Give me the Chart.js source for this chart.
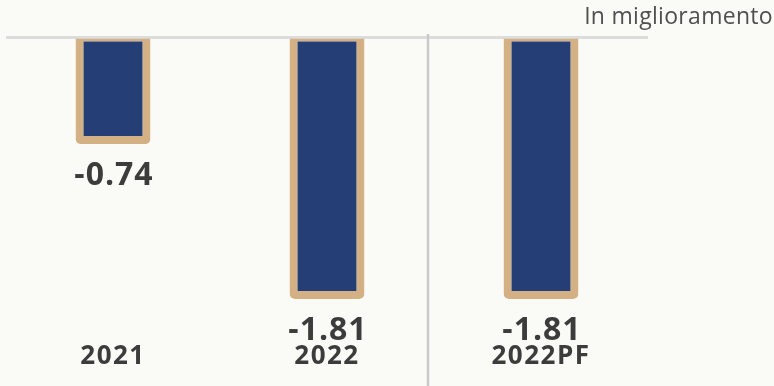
<!DOCTYPE html>
<html>
<head>
<meta charset="utf-8">
<script src="https://cdn.jsdelivr.net/npm/chart.js@4.4.1/dist/chart.umd.min.js"></script>
<style>
    html, body { margin: 0; padding: 0; background: #fafaf7; }
    #wrap { position: relative; width: 774px; height: 386px; }
    #trend {
        position: absolute; right: 1px; top: -1px;
        font: 400 23px "Open Sans", sans-serif;
        letter-spacing: 0.3px; color: #505050;
    }
</style>
</head>
<body>
<div id="wrap">
    <div id="trend">In miglioramento</div>
    <canvas id="chart" width="774" height="386"></canvas>
</div>
<script>
const categories = ['2021', '2022', '2022PF'];
const values = [-0.74, -1.81, -1.81];

const textColor = '#3c3c3c';

// value under each bar
const valueLabels = {
    id: 'valueLabels',
    afterDatasetsDraw(chart) {
        const ctx = chart.ctx;
        ctx.save();
        ctx.font = '700 32px "Open Sans", sans-serif';
        ctx.letterSpacing = '1px';
        ctx.fillStyle = textColor;
        ctx.textAlign = 'center';
        ctx.textBaseline = 'alphabetic';
        chart.getDatasetMeta(0).data.forEach((bar, i) => {
            ctx.fillText(values[i].toFixed(2), bar.x + 1, bar.y + 41);
        });
        ctx.restore();
    }
};

// separator between actual and pro-forma
const divider = {
    id: 'divider',
    beforeDatasetsDraw(chart) {
        const ctx = chart.ctx;
        const xs = chart.scales.x;
        const x = (xs.getPixelForValue(1) + xs.getPixelForValue(2)) / 2 - 6;
        ctx.save();
        ctx.strokeStyle = '#c9c9c9';
        ctx.lineWidth = 2.5;
        ctx.beginPath();
        ctx.moveTo(x, chart.chartArea.top - 3);
        ctx.lineTo(x, chart.height);
        ctx.stroke();
        ctx.restore();
    }
};

const tickSpacing = {
    id: 'tickSpacing',
    beforeDraw(chart) {
        chart.ctx.letterSpacing = '1.5px';
    }
};

new Chart(document.getElementById('chart'), {
    type: 'bar',
    data: {
        labels: categories,
        datasets: [{
            data: values,
            backgroundColor: '#253f76',
            borderColor: '#d4b085',
            borderWidth: {top: 3, left: 8, right: 8, bottom: 8},
            borderSkipped: false,
            borderRadius: {topLeft: 0, topRight: 0, bottomLeft: 5, bottomRight: 5},
            barPercentage: 0.35,
            categoryPercentage: 1
        }]
    },
    options: {
        responsive: false,
        animation: false,
        layout: {padding: {left: 6, right: 126, top: 37, bottom: 12}},
        plugins: {
            legend: {display: false},
            tooltip: {enabled: false}
        },
        scales: {
            x: {
                grid: {display: false, drawTicks: false},
                border: {display: false},
                ticks: {
                    color: textColor,
                    padding: 2,
                    font: {family: '"Open Sans", sans-serif', size: 26, weight: '700'}
                }
            },
            y: {
                min: -2.085,
                max: 0,
                grid: {
                    drawTicks: false,
                    lineWidth: 3,
                    color: c => c.tick.value === 0 ? '#dcdcdc' : 'transparent'
                },
                border: {display: false},
                ticks: {display: false}
            }
        }
    },
    plugins: [divider, valueLabels, tickSpacing]
});
</script>
</body>
</html>
